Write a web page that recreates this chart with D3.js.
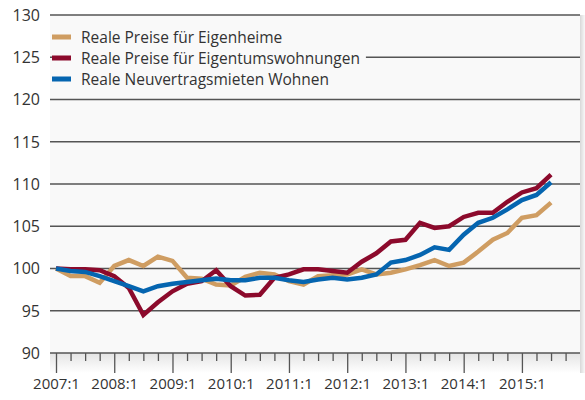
<!DOCTYPE html>
<html>
<head>
<meta charset="utf-8">
<script src="https://cdn.jsdelivr.net/npm/d3@7"></script>
<style>
  body { margin: 0; background: #fff; }
  svg { display: block; font-family: "Open Sans", sans-serif; }
</style>
</head>
<body>
<svg id="chart" width="585" height="400"></svg>
<script>
const quarters = [];
for (let y = 2007; y <= 2015; y++) for (let q = 1; q <= 4; q++) quarters.push(y + ':' + q);

const yTicks = [90, 95, 100, 105, 110, 115, 120, 125, 130];

const seriesNames = [
  'Reale Preise für Eigenheime',
  'Reale Preise für Eigentumswohnungen',
  'Reale Neuvertragsmieten Wohnen'
];
const seriesColors = ['#cf9d62', '#8c0a2c', '#0565b0'];

// 2007:1 .. 2015:3
const eigenheime = [
  100.0, 99.1, 99.1, 98.3, 100.3, 101.0, 100.3, 101.4, 100.9, 98.9, 98.8, 98.1,
  98.0, 99.0, 99.5, 99.3, 98.5, 98.1, 99.1, 99.2, 99.3, 99.9, 99.3, 99.5,
  99.9, 100.4, 101.0, 100.3, 100.7, 102.0, 103.4, 104.2, 106.0, 106.3, 107.8
];
const wohnungen = [
  100.0, 99.9, 99.9, 99.8, 99.1, 97.7, 94.5, 96.0, 97.3, 98.2, 98.5, 99.8,
  97.9, 96.8, 96.9, 98.9, 99.3, 99.9, 99.9, 99.7, 99.5, 100.8, 101.8, 103.2,
  103.4, 105.4, 104.8, 105.0, 106.1, 106.6, 106.6, 107.9, 109.0, 109.5, 111.1
];
const mieten = [
  100.0, 99.7, 99.6, 99.1, 98.5, 97.9, 97.3, 97.9, 98.2, 98.4, 98.6, 98.8,
  98.6, 98.6, 98.9, 98.9, 98.6, 98.4, 98.7, 98.9, 98.7, 98.9, 99.3, 100.7,
  101.0, 101.6, 102.5, 102.2, 104.0, 105.4, 106.0, 107.0, 108.1, 108.7, 110.2
];
const series = [eigenheime, wohnungen, mieten];

const svg = d3.select('#chart');
const plotLeft = 50, plotRight = 580, plotTop = 15, plotBottom = 353;

const x = d3.scaleLinear().domain([0, quarters.length - 1]).range([56, 565.6]);
const y = d3.scaleLinear().domain([90, 130]).range([plotBottom, plotTop]);

const defs = svg.append('defs');
const gr = defs.append('linearGradient').attr('id', 'shR').attr('x1', 0).attr('x2', 1).attr('y1', 0).attr('y2', 0);
gr.append('stop').attr('offset', 0).attr('stop-color', '#d8d8d8');
gr.append('stop').attr('offset', 1).attr('stop-color', '#ffffff');
const gb = defs.append('linearGradient').attr('id', 'shB').attr('x1', 0).attr('x2', 0).attr('y1', 0).attr('y2', 1);
gb.append('stop').attr('offset', 0).attr('stop-color', '#e4e4e4');
gb.append('stop').attr('offset', 1).attr('stop-color', '#ffffff');

// plot background + shadows
svg.append('rect').attr('x', plotRight).attr('y', plotTop).attr('width', 6).attr('height', plotBottom - plotTop + 20).attr('fill', 'url(#shR)');
svg.append('rect').attr('x', plotLeft).attr('y', plotBottom).attr('width', plotRight - plotLeft).attr('height', 20).attr('fill', 'url(#shB)');
svg.append('rect').attr('x', plotLeft).attr('y', plotTop).attr('width', plotRight - plotLeft).attr('height', plotBottom - plotTop).attr('fill', '#f9f9f9');

// grid
svg.append('g').selectAll('line').data(yTicks).enter().append('line')
  .attr('x1', plotLeft).attr('x2', plotRight)
  .attr('y1', d => y(d)).attr('y2', d => y(d))
  .attr('stroke', '#555').attr('stroke-width', 1.3);

// y labels
svg.append('g').selectAll('text').data(yTicks).enter().append('text')
  .attr('x', 40).attr('y', d => y(d)).attr('dy', '0.36em')
  .attr('text-anchor', 'end').attr('font-size', 16).attr('fill', '#333')
  .text(d => d);

// x axis
const xAxis = d3.axisBottom(x)
  .tickValues(d3.range(quarters.length))
  .tickSize(8)
  .tickFormat(i => quarters[i].endsWith(':1') ? quarters[i] : '');
const gx = svg.append('g').attr('transform', `translate(0,${plotBottom})`).call(xAxis);
gx.select('.domain').remove();
gx.selectAll('.tick line')
  .attr('stroke', '#555').attr('stroke-width', 1.3)
  .attr('y2', i => quarters[i].endsWith(':1') ? 20 : 8);
gx.selectAll('.tick text')
  .attr('y', 25).attr('font-size', 15).attr('fill', '#333')
  .attr('font-family', '"Open Sans", sans-serif');

// lines
const line = d3.line().x((d, i) => x(i)).y(d => y(d));
svg.append('g').selectAll('path').data(series).enter().append('path')
  .attr('d', d => line(d))
  .attr('fill', 'none')
  .attr('stroke', (d, i) => seriesColors[i])
  .attr('stroke-width', 4.5)
  .attr('stroke-linejoin', 'miter');

// legend
const lg = svg.append('g').selectAll('g').data(seriesNames).enter().append('g')
  .attr('transform', (d, i) => `translate(52,${37 + i * 21})`);
const bg = lg.append('rect').attr('fill', '#f9f9f9');
lg.append('rect').attr('x', 0).attr('y', -2.5).attr('width', 19).attr('height', 5)
  .attr('fill', (d, i) => seriesColors[i]);
const lt = lg.append('text').attr('x', 29).attr('dy', '0.36em')
  .attr('font-size', 15.5).attr('fill', '#333')
  .text(d => d);
lt.each(function () {
  const b = this.getBBox();
  d3.select(this.parentNode).select('rect')
    .attr('x', 19).attr('y', -6).attr('width', b.x + b.width + 6 - 19).attr('height', 12);
});
</script>
</body>
</html>
